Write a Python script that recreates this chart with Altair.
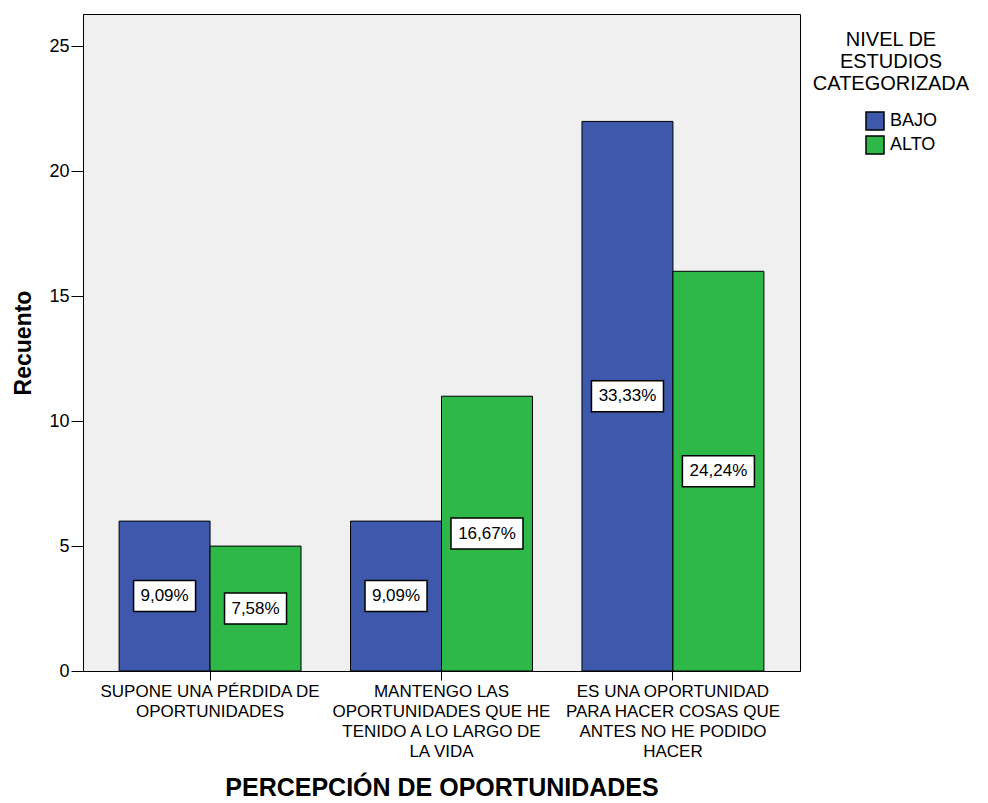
import altair as alt
import pandas as pd

categories = [
    "SUPONE UNA PÉRDIDA DE|OPORTUNIDADES",
    "MANTENGO LAS|OPORTUNIDADES QUE HE|TENIDO A LO LARGO DE|LA VIDA",
    "ES UNA OPORTUNIDAD|PARA HACER COSAS QUE|ANTES NO HE PODIDO|HACER",
]
levels = ["BAJO", "ALTO"]
bajo_counts = [6, 6, 22]
alto_counts = [5, 11, 16]
bajo_pct = ["9,09%", "9,09%", "33,33%"]
alto_pct = ["7,58%", "16,67%", "24,24%"]
colors = ["#3E58AC", "#2EB848"]

rows = []
for i, c in enumerate(categories):
    rows.append({"cat": c, "nivel": "BAJO", "n": bajo_counts[i], "pct": bajo_pct[i]})
    rows.append({"cat": c, "nivel": "ALTO", "n": alto_counts[i], "pct": alto_pct[i]})
df = pd.DataFrame(rows)

FONT = "Liberation Sans"

x_enc = alt.X(
    "cat:N",
    sort=categories,
    scale=alt.Scale(paddingInner=0.214, paddingOuter=0.156),
    axis=alt.Axis(
        title="PERCEPCIÓN DE OPORTUNIDADES",
        labelExpr="split(datum.label, '|')",
        labelAngle=0,
        labelFontSize=17,
        labelLineHeight=20,
        labelPadding=3,
        labelLimit=0,
        labelOverlap=False,
        labelColor="black",
        labelBaseline="top",
        tickSize=9,
        tickColor="black",
        domainColor="black",
        titleFontSize=25,
        titleFontWeight="bold",
        titleColor="black",
        titlePadding=16,
    ),
)
xoff = alt.XOffset("nivel:N", sort=levels, scale=alt.Scale(paddingInner=0, paddingOuter=0))

y_scale = alt.Scale(domain=[0, 26.3], nice=False, zero=True)

base = alt.Chart(df)

bars = base.mark_bar(stroke="black", strokeWidth=1).encode(
    x=x_enc,
    xOffset=xoff,
    y=alt.Y(
        "n:Q",
        scale=y_scale,
        axis=alt.Axis(
            title="Recuento",
            values=[0, 5, 10, 15, 20, 25],
            grid=False,
            labelFontSize=18,
            labelColor="black",
            labelPadding=2,
            tickSize=12,
            tickColor="black",
            domainColor="black",
            titleFontSize=23,
            titleFontWeight="bold",
            titleColor="black",
            titlePadding=13,
        ),
    ),
    fill=alt.Fill(
        "nivel:N",
        sort=levels,
        scale=alt.Scale(domain=levels, range=colors),
        legend=alt.Legend(
            title=["NIVEL DE", "ESTUDIOS", "CATEGORIZADA"],
            orient="none",
            legendX=730,
            legendY=16,
            padding=0,
            titleFontSize=20,
            titleFontWeight="normal",
            titleColor="black",
            titleAlign="center",
            titleAnchor="middle",
            titleLineHeight=22,
            titlePadding=17,
            labelFontSize=18,
            labelColor="black",
            labelOffset=5,
            symbolType="square",
            symbolSize=324,
            symbolStrokeColor="black",
            symbolStrokeWidth=1.5,
            symbolOffset=21,
            rowPadding=0,
        ),
    ),
)

box_common = base.transform_calculate(
    lo="datum.n / 2 - 0.62", hi="datum.n / 2 + 0.62"
)

boxes5 = box_common.transform_filter("length(datum.pct) == 5").mark_bar(
    fill="white", stroke="black", strokeWidth=1.5, width=62
).encode(
    x=alt.X("cat:N", sort=categories),
    xOffset=xoff,
    y=alt.Y("lo:Q", scale=y_scale),
    y2="hi:Q",
)
boxes6 = box_common.transform_filter("length(datum.pct) == 6").mark_bar(
    fill="white", stroke="black", strokeWidth=1.5, width=72
).encode(
    x=alt.X("cat:N", sort=categories),
    xOffset=xoff,
    y=alt.Y("lo:Q", scale=y_scale),
    y2="hi:Q",
)

labels = base.transform_calculate(mid="datum.n / 2").mark_text(
    fontSize=17, color="black", baseline="middle", align="center"
).encode(
    x=alt.X("cat:N", sort=categories),
    xOffset=xoff,
    y=alt.Y("mid:Q", scale=y_scale),
    text="pct:N",
)

chart = (
    alt.layer(bars, boxes5, boxes6, labels)
    .properties(
        width=717,
        height=657,
        padding={"left": 4, "top": 6, "right": 2, "bottom": 2},
        background="white",
    )
    .configure(font=FONT)
    .configure_view(fill="#F0F0F0", stroke="black", strokeWidth=1)
)

chart.save("out.html", embed_options={"renderer": "svg", "actions": False})
